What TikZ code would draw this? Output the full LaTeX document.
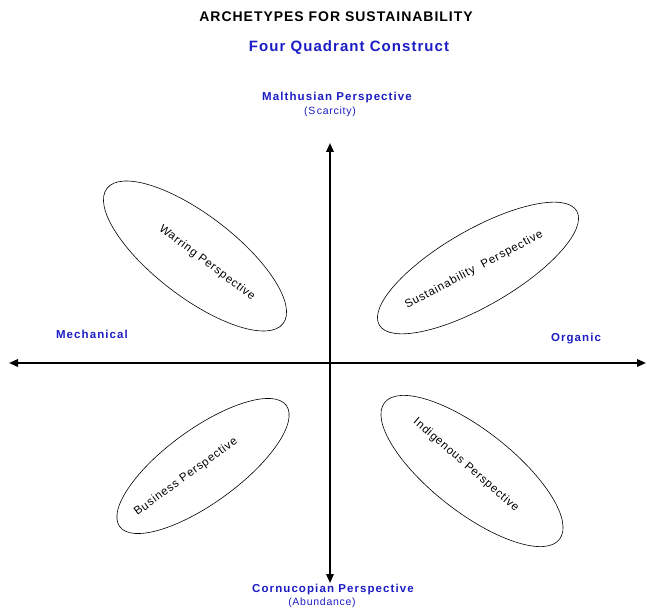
\documentclass[tikz,border=0pt]{standalone}
\usepackage{fontspec}
\setmainfont{Liberation Sans}
\usetikzlibrary{shapes.geometric,arrows.meta}
\definecolor{headblue}{RGB}{28,28,196}
% spaced-out faces for the headings and the ellipse captions
\newfontfamily\wideA[LetterSpace=7]{Liberation Sans}
\newfontfamily\wideB[LetterSpace=9.5]{Liberation Sans}
\begin{document}
\begin{tikzpicture}[x=1pt,y=-1pt,
  axis/.style={line width=1.8pt,-{Triangle[length=9pt,width=7.5pt]}},
  lens/.style={draw,ellipse,line width=0.6pt,inner sep=0pt},
  caption/.style={inner sep=0pt,font=\wideA\fontsize{11.5}{13}\selectfont},
  heading/.style={text=headblue,font=\wideB\bfseries\fontsize{11.5}{13}\selectfont,inner sep=0pt},
  sub/.style={text=headblue,font=\wideA\fontsize{10.5}{12}\selectfont,inner sep=0pt}]
\useasboundingbox (0,0) rectangle (647,609);

% titles
\node[inner sep=0pt,font=\wideA\bfseries\fontsize{14}{16}\selectfont] (title) at (336,17) {ARCHETYPES FOR SUSTAINABILITY};
\node[heading,font=\wideA\bfseries\fontsize{15}{17}\selectfont] (quad) at (349,48) {Four Quadrant Construct};

% axis labels
\node[heading] (top) at (337,98) {Malthusian Perspective};
\node[sub] (topsub) at (330,112) {(S\kern1.5pt carcity)};
\node[heading] (bot) at (333,590) {Cornucopian Perspective};
\node[sub] (botsub) at (322,603) {(Abundance)};
\node[heading] (left) at (92,334) {Mechanical};
\node[heading] (right) at (576,339) {Organic};

% axes
\coordinate (o) at (330,363);
\coordinate (n) at (330,143);
\coordinate (s) at (330,583);
\coordinate (w) at (9,363);
\coordinate (e) at (646,363);
\draw[axis] (o) -- (n);
\draw[axis] (o) -- (s);
\draw[axis] (o) -- (w);
\draw[axis] (o) -- (e);

% quadrant ellipses
\node[lens,minimum width=222,minimum height=82,rotate=-37.5] (war) at (195,256) {};
\node[lens,minimum width=228,minimum height=76,rotate=30] (sus) at (478,268) {};
\node[lens,minimum width=206,minimum height=74,rotate=36] (bus) at (203,466) {};
\node[lens,minimum width=222,minimum height=82,rotate=-38] (ind) at (472,471) {};

% captions inside the ellipses
\node[caption,rotate=-37] (warT) at (207,263) {Warring Perspective};
\node[caption,rotate=28] (susT) at (474,270) {Sustainability\ \ Perspective};
\node[caption,rotate=36] (busT) at (186,477) {Business Perspective};
\node[caption,rotate=-41] (indT) at (466,465) {Indigenous Perspective};
\end{tikzpicture}
\end{document}
